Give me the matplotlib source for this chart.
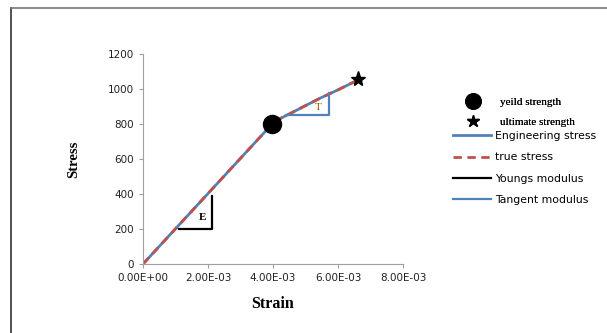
import matplotlib
matplotlib.use("Agg")
import matplotlib.pyplot as plt
from matplotlib.lines import Line2D

# ---- data ----
eng_strain = [0, 3.85e-3, 4.1e-3, 4.5e-3, 5.0e-3, 5.5e-3, 6.0e-3, 6.6e-3]
eng_stress = [0, 775, 820, 857, 905, 952, 995, 1050]
true_strain = [0, 3.85e-3, 4.1e-3, 4.5e-3, 5.0e-3, 5.5e-3, 6.0e-3, 6.6e-3]
true_stress = [0, 775, 820, 857, 905, 952, 995, 1050]
youngs_x = [1.1e-3, 2.12e-3, 2.12e-3]
youngs_y = [200, 200, 390]
tangent_x = [4.4e-3, 5.72e-3, 5.72e-3]
tangent_y = [851, 851, 977]
yield_pt = (3.97e-3, 800)
ultimate_pt = (6.6e-3, 1055)
xticks = [0, 2e-3, 4e-3, 6e-3, 8e-3]
xtick_labels = ["0.00E+00", "2.00E-03", "4.00E-03", "6.00E-03", "8.00E-03"]
yticks = [0, 200, 400, 600, 800, 1000, 1200]

W, H = 607, 333
fig = plt.figure(figsize=(W / 100, H / 100), dpi=100)
ax = fig.add_axes([143 / W, 1 - 264 / H, 260 / W, 210 / H])

blue = "#4f81bd"
red = "#c0504d"

l_eng, = ax.plot(eng_strain, eng_stress, color=blue, lw=2.0, label="Engineering stress")
l_true, = ax.plot(true_strain, true_stress, color=red, lw=2.0, ls=(0, (3, 2)), label="true stress")
l_y, = ax.plot(youngs_x, youngs_y, color="black", lw=1.6, label="Youngs modulus")
l_t, = ax.plot(tangent_x, tangent_y, color=blue, lw=1.6, label="Tangent modulus")
m_y, = ax.plot([yield_pt[0]], [yield_pt[1]], "o", color="black", ms=13, ls="none", label="yeild strength")
m_u, = ax.plot([ultimate_pt[0]], [ultimate_pt[1]], "*", color="black", ms=11, ls="none", label="ultimate strength")

ax.text(1.82e-3, 265, "E", fontsize=8, family="Liberation Serif", fontweight="bold", ha="center", va="center")
ax.text(5.4e-3, 895, "T", fontsize=8, family="Liberation Serif", color="#8a5a00", ha="center", va="center")

ax.set_xlim(0, 8e-3)
ax.set_ylim(0, 1200)
ax.set_xticks(xticks)
ax.set_xticklabels(xtick_labels)
ax.set_yticks(yticks)
for s in ["top", "right"]:
    ax.spines[s].set_visible(False)
for s in ["left", "bottom"]:
    ax.spines[s].set_color("#a0a0a0")
    ax.spines[s].set_linewidth(0.8)
ax.tick_params(axis="both", colors="#a0a0a0", labelcolor="#222222", labelsize=7.5, length=3, width=0.8)
ax.set_xlabel("Strain", fontsize=11.5, family="Liberation Serif", fontweight="bold", labelpad=9)
ax.set_ylabel("Stress", fontsize=10.5, family="Liberation Serif", fontweight="bold", labelpad=20)

leg1 = fig.legend(handles=[m_y, m_u], loc="upper left", bbox_to_anchor=(464 / W, 1 - 97 / H),
                  frameon=False, prop={"family": "Liberation Serif", "size": 8},
                  handlelength=1.6, handletextpad=1.6, labelspacing=0.9, borderpad=0,
                  borderaxespad=0, markerscale=0.85)
leg2 = fig.legend(handles=[l_eng, l_true, l_y, l_t], loc="upper left", bbox_to_anchor=(453 / W, 1 - 131 / H),
                  frameon=False, prop={"family": "DejaVu Sans", "size": 7.8},
                  handlelength=3.5, handletextpad=0.4, labelspacing=1.05, borderpad=0, borderaxespad=0)
fig.add_artist(leg1)

# outer frame lines
fig.add_artist(Line2D([11 / W, 11 / W], [0, 1 - 8 / H], transform=fig.transFigure, color="#333333", lw=1.2))
fig.add_artist(Line2D([11 / W, 1], [1 - 8 / H, 1 - 8 / H], transform=fig.transFigure, color="#777777", lw=1.2))

fig.savefig("out.png", dpi=100)
